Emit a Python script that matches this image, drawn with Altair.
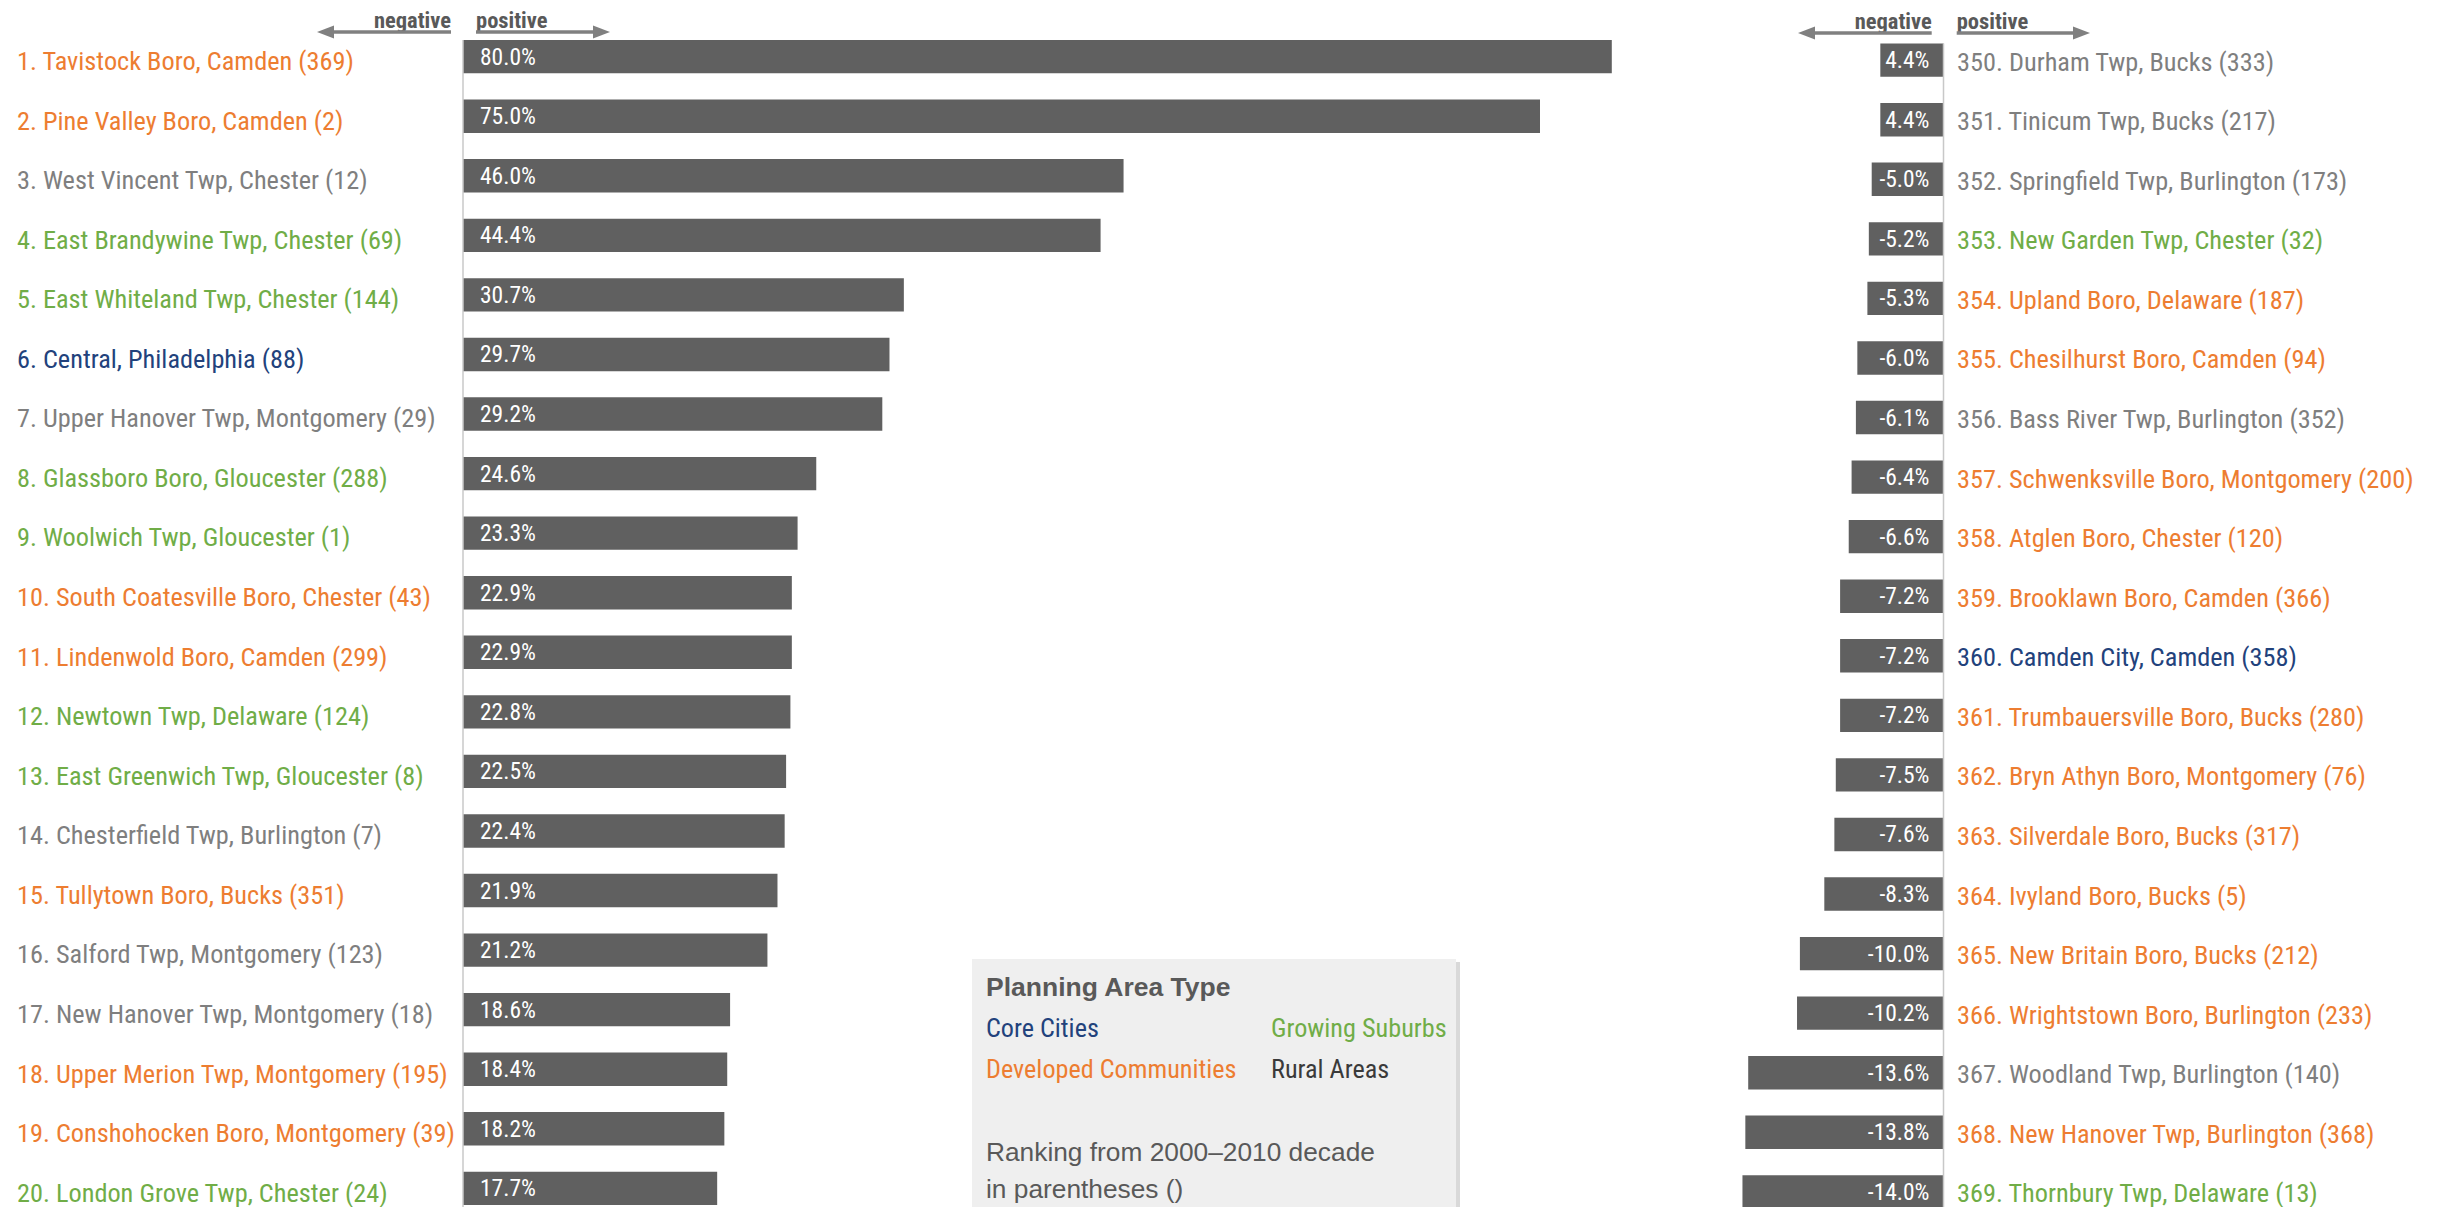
import altair as alt
import pandas as pd

# ---------------- data ----------------
top_labels = [
    "1. Tavistock Boro, Camden (369)",
    "2. Pine Valley Boro, Camden (2)",
    "3. West Vincent Twp, Chester (12)",
    "4. East Brandywine Twp, Chester (69)",
    "5. East Whiteland Twp, Chester (144)",
    "6. Central, Philadelphia (88)",
    "7. Upper Hanover Twp, Montgomery (29)",
    "8. Glassboro Boro, Gloucester (288)",
    "9. Woolwich Twp, Gloucester (1)",
    "10. South Coatesville Boro, Chester (43)",
    "11. Lindenwold Boro, Camden (299)",
    "12. Newtown Twp, Delaware (124)",
    "13. East Greenwich Twp, Gloucester (8)",
    "14. Chesterfield Twp, Burlington (7)",
    "15. Tullytown Boro, Bucks (351)",
    "16. Salford Twp, Montgomery (123)",
    "17. New Hanover Twp, Montgomery (18)",
    "18. Upper Merion Twp, Montgomery (195)",
    "19. Conshohocken Boro, Montgomery (39)",
    "20. London Grove Twp, Chester (24)",
]
top_values = [80.0, 75.0, 46.0, 44.4, 30.7, 29.7, 29.2, 24.6, 23.3, 22.9,
              22.9, 22.8, 22.5, 22.4, 21.9, 21.2, 18.6, 18.4, 18.2, 17.7]
top_value_text = ["80.0%", "75.0%", "46.0%", "44.4%", "30.7%", "29.7%", "29.2%",
                  "24.6%", "23.3%", "22.9%", "22.9%", "22.8%", "22.5%", "22.4%",
                  "21.9%", "21.2%", "18.6%", "18.4%", "18.2%", "17.7%"]
top_types = ["Developed Communities", "Developed Communities", "Rural Areas",
             "Growing Suburbs", "Growing Suburbs", "Core Cities", "Rural Areas",
             "Growing Suburbs", "Growing Suburbs", "Developed Communities",
             "Developed Communities", "Growing Suburbs", "Growing Suburbs",
             "Rural Areas", "Developed Communities", "Rural Areas", "Rural Areas",
             "Developed Communities", "Developed Communities", "Growing Suburbs"]

bottom_labels = [
    "350. Durham Twp, Bucks (333)",
    "351. Tinicum Twp, Bucks (217)",
    "352. Springfield Twp, Burlington (173)",
    "353. New Garden Twp, Chester (32)",
    "354. Upland Boro, Delaware (187)",
    "355. Chesilhurst Boro, Camden (94)",
    "356. Bass River Twp, Burlington (352)",
    "357. Schwenksville Boro, Montgomery (200)",
    "358. Atglen Boro, Chester (120)",
    "359. Brooklawn Boro, Camden (366)",
    "360. Camden City, Camden (358)",
    "361. Trumbauersville Boro, Bucks (280)",
    "362. Bryn Athyn Boro, Montgomery (76)",
    "363. Silverdale Boro, Bucks (317)",
    "364. Ivyland Boro, Bucks (5)",
    "365. New Britain Boro, Bucks (212)",
    "366. Wrightstown Boro, Burlington (233)",
    "367. Woodland Twp, Burlington (140)",
    "368. New Hanover Twp, Burlington (368)",
    "369. Thornbury Twp, Delaware (13)",
]
bottom_values = [-4.4, -4.4, -5.0, -5.2, -5.3, -6.0, -6.1, -6.4, -6.6, -7.2,
                 -7.2, -7.2, -7.5, -7.6, -8.3, -10.0, -10.2, -13.6, -13.8, -14.0]
bottom_value_text = ["4.4%", "4.4%", "-5.0%", "-5.2%", "-5.3%", "-6.0%", "-6.1%",
                     "-6.4%", "-6.6%", "-7.2%", "-7.2%", "-7.2%", "-7.5%", "-7.6%",
                     "-8.3%", "-10.0%", "-10.2%", "-13.6%", "-13.8%", "-14.0%"]
bottom_types = ["Rural Areas", "Rural Areas", "Rural Areas", "Growing Suburbs",
                "Developed Communities", "Developed Communities", "Rural Areas",
                "Developed Communities", "Developed Communities",
                "Developed Communities", "Core Cities", "Developed Communities",
                "Developed Communities", "Developed Communities",
                "Developed Communities", "Developed Communities",
                "Developed Communities", "Rural Areas", "Developed Communities",
                "Growing Suburbs"]

type_names = ["Core Cities", "Growing Suburbs", "Developed Communities", "Rural Areas"]
type_colors = ["#22427C", "#70AD47", "#ED7D31", "#7F7F7F"]
legend_colors = ["#22427C", "#70AD47", "#ED7D31", "#3A3A3A"]
legend_title = "Planning Area Type"
note_lines = ["Ranking from 2000\u20132010 decade", "in parentheses ()"]

rows = list(range(1, 21))
left = pd.DataFrame({"row": rows, "label": top_labels, "value": top_values,
                     "vtext": top_value_text, "type": top_types})
right = pd.DataFrame({"row": rows, "label": bottom_labels, "value": bottom_values,
                      "vtext": bottom_value_text, "type": bottom_types})
one = pd.DataFrame({"k": [0]})

# ---------------- layout ----------------
W, H = 2421, 1199
PX = 14.36            # pixels per percentage point
L0 = 455              # left zero line
R0 = 1935.5           # right zero line
NARROW = "Liberation Sans Narrow, Arial Narrow, Roboto Condensed, sans-serif"
REG = "Liberation Sans, Arial, sans-serif"
BAR = "#606060"
LABEL_SIZE = 26.3

yscale = alt.Scale(type="band", domain=rows, range=[32, 1197],
                   paddingInner=0.44, paddingOuter=0)
color = alt.Color("type:N", scale=alt.Scale(domain=type_names, range=type_colors),
                  legend=None)

left_bars = alt.Chart(left).mark_bar(color=BAR).encode(
    y=alt.Y("row:O", scale=yscale, axis=None),
    x=alt.X("value:Q", scale=alt.Scale(domain=[0, 80], range=[L0, L0 + 80 * PX],
                                       nice=False), axis=None),
)
right_bars = alt.Chart(right).mark_bar(color=BAR, yOffset=3.5).encode(
    y=alt.Y("row:O", axis=None),
    x=alt.X("value:Q", scale=alt.Scale(domain=[-14, 0], range=[R0 - 14 * PX, R0],
                                       nice=False), axis=None),
)

left_vals = alt.Chart(left).mark_text(
    align="left", baseline="middle", font=NARROW, fontSize=23.5, color="white", dy=1
).encode(y=alt.Y("row:O", axis=None), x=alt.value(L0 + 17), text="vtext:N")
right_vals = alt.Chart(right).mark_text(
    align="right", baseline="middle", font=NARROW, fontSize=23.5, color="white", dy=4.5
).encode(y=alt.Y("row:O", axis=None), x=alt.value(R0 - 14), text="vtext:N")

left_names = alt.Chart(left).mark_text(
    align="left", baseline="alphabetic", font=NARROW, fontSize=LABEL_SIZE, dy=13.3
).encode(y=alt.Y("row:O", axis=None), x=alt.value(9), text="label:N", color=color)
right_names = alt.Chart(right).mark_text(
    align="left", baseline="alphabetic", font=NARROW, fontSize=LABEL_SIZE, dy=14
).encode(y=alt.Y("row:O", axis=None), x=alt.value(1949), text="label:N", color=color)

left_axis = alt.Chart(one).mark_rule(color="#C8C8C8", strokeWidth=1.5).encode(
    x=alt.value(L0), y=alt.value(32), y2=alt.value(H))
right_axis = alt.Chart(one).mark_rule(color="#C8C8C8", strokeWidth=1.5).encode(
    x=alt.value(R0), y=alt.value(35.5), y2=alt.value(H))

# header arrows
ARROW = "#808080"
HEAD_L = "M -1 0 L 1 -0.77 L 1 0.77 Z"
HEAD_R = "M 1 0 L -1 -0.77 L -1 0.77 Z"


def header(neg_end, pos_start, line_y, text_y, l_tip, r_tip):
    layers = []
    layers.append(alt.Chart(one).mark_text(
        text="negative", align="right", baseline="alphabetic", font=NARROW,
        fontSize=22.5, fontWeight="bold", color="#595959"
    ).encode(x=alt.value(neg_end), y=alt.value(text_y)))
    layers.append(alt.Chart(one).mark_text(
        text="positive", align="left", baseline="alphabetic", font=NARROW,
        fontSize=22.5, fontWeight="bold", color="#595959"
    ).encode(x=alt.value(pos_start), y=alt.value(text_y)))
    layers.append(alt.Chart(one).mark_rule(color=ARROW, strokeWidth=3.3).encode(
        x=alt.value(l_tip + 12), x2=alt.value(neg_end), y=alt.value(line_y)))
    layers.append(alt.Chart(one).mark_rule(color=ARROW, strokeWidth=3.3).encode(
        x=alt.value(pos_start), x2=alt.value(r_tip - 12), y=alt.value(line_y)))
    layers.append(alt.Chart(one).mark_point(
        shape=HEAD_L, filled=True, size=289, color=ARROW, opacity=1
    ).encode(x=alt.value(l_tip + 8.5), y=alt.value(line_y)))
    layers.append(alt.Chart(one).mark_point(
        shape=HEAD_R, filled=True, size=289, color=ARROW, opacity=1
    ).encode(x=alt.value(r_tip - 8.5), y=alt.value(line_y)))
    return layers


hdr = header(443, 468, 24, 20, 309, 602) + header(1923.7, 1948.7, 25, 20.5, 1790, 2082)

# legend box
BX0, BX1, BY0 = 964, 1448, 951
legend_layers = [
    alt.Chart(one).mark_rect(color="#C9C9C9", opacity=0.7).encode(
        x=alt.value(BX0 + 3), x2=alt.value(BX1 + 4), y=alt.value(BY0 + 3),
        y2=alt.value(1300)),
    alt.Chart(one).mark_rect(color="#EFEFEF").encode(
        x=alt.value(BX0), x2=alt.value(BX1), y=alt.value(BY0), y2=alt.value(1300)),
    alt.Chart(one).mark_text(
        text=legend_title, align="left", baseline="alphabetic", font=REG,
        fontSize=26.5, fontWeight="bold", color="#595959"
    ).encode(x=alt.value(978), y=alt.value(988)),
]
legend_pos = [(978, 1029), (1263, 1029), (978, 1070), (1263, 1070)]
for name, col, (lx, ly) in zip(type_names, legend_colors, legend_pos):
    legend_layers.append(alt.Chart(one).mark_text(
        text=name, align="left", baseline="alphabetic", font=NARROW, fontSize=26.2,
        color=col
    ).encode(x=alt.value(lx), y=alt.value(ly)))
for line, ly in zip(note_lines, [1153, 1190]):
    legend_layers.append(alt.Chart(one).mark_text(
        text=line, align="left", baseline="alphabetic", font=REG, fontSize=26.3,
        color="#595959"
    ).encode(x=alt.value(978), y=alt.value(ly)))

chart = alt.layer(
    left_bars, right_bars, left_axis, right_axis, left_vals, right_vals,
    left_names, right_names, *hdr, *legend_layers
).resolve_scale(x="independent").properties(
    width=W, height=H, padding=0, autosize=alt.AutoSizeParams(type="none"),
    background="white"
).configure_view(stroke=None)

chart.save("out.html", embed_options={"renderer": "svg", "actions": False})
